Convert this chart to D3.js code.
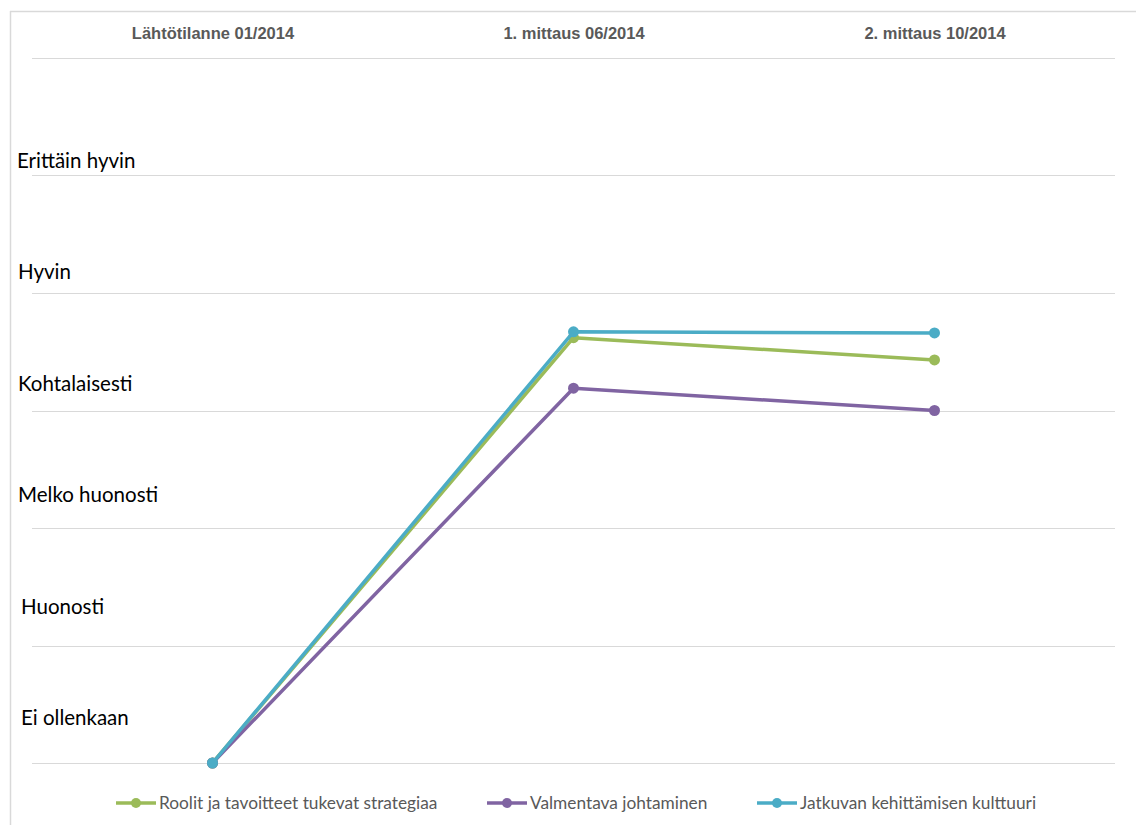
<!DOCTYPE html>
<html>
<head>
<meta charset="utf-8">
<script src="https://cdn.jsdelivr.net/npm/d3@7"></script>
<style>
  html, body { margin: 0; padding: 0; background: #fff; }
  svg { display: block; font-family: Lato, "Open Sans", "Liberation Sans", sans-serif; }
</style>
</head>
<body>
<svg id="chart" width="1136" height="825"></svg>
<script>
// Measurement points (category axis shown along the top)
const categories = ["Lähtötilanne 01/2014", "1. mittaus 06/2014", "2. mittaus 10/2014"];

// Rating scale labels, from lowest (0) upward
const scaleLabels = ["Ei ollenkaan", "Huonosti", "Melko huonosti", "Kohtalaisesti", "Hyvin", "Erittäin hyvin"];

// Series
const seriesNames = ["Roolit ja tavoitteet tukevat strategiaa", "Valmentava johtaminen", "Jatkuvan kehittämisen kulttuuri"];
const roolitValues = [0, 3.62, 3.43];
const valmentavaValues = [0, 3.19, 3.00];
const jatkuvanValues = [0, 3.67, 3.66];
const seriesColors = ["#9BBB59", "#8064A2", "#4BACC6"];

const series = [
  { name: seriesNames[0], values: roolitValues, color: seriesColors[0] },
  { name: seriesNames[1], values: valmentavaValues, color: seriesColors[1] },
  { name: seriesNames[2], values: jatkuvanValues, color: seriesColors[2] }
];

const svg = d3.select("#chart");

// Chart frame
svg.append("line").attr("x1", 10).attr("x2", 1136).attr("y1", 11.5).attr("y2", 11.5)
  .attr("stroke", "#d9d9d9").attr("stroke-width", 1.5);
svg.append("line").attr("x1", 10.5).attr("x2", 10.5).attr("y1", 11).attr("y2", 825)
  .attr("stroke", "#d9d9d9").attr("stroke-width", 1.5);

const plot = { left: 32, right: 1115, top: 58, bottom: 763 };

const x = d3.scalePoint().domain(categories).range([plot.left, plot.right]).padding(0.5);
const y = d3.scaleLinear().domain([0, 6]).range([plot.bottom, plot.top]);

// Horizontal gridlines
svg.append("g")
  .selectAll("line")
  .data(d3.range(0, 7))
  .join("line")
  .attr("x1", plot.left).attr("x2", plot.right)
  .attr("y1", d => Math.round(y(d)) + 0.5).attr("y2", d => Math.round(y(d)) + 0.5)
  .attr("stroke", "#d9d9d9").attr("stroke-width", 1);

// Category axis along the top
const topAxis = d3.axisTop(x).tickSize(0).tickPadding(0);
const gTop = svg.append("g").attr("transform", "translate(0,39)").call(topAxis);
gTop.select(".domain").remove();
gTop.selectAll("text")
  .attr("fill", "#595959")
  .attr("font-size", "16.5px")
  .attr("font-weight", "bold");

// Rating labels at the left, laid out as separate text boxes
const labelY = d3.scaleLinear().domain([0, scaleLabels.length - 1]).range([725, 168]);
svg.append("g")
  .selectAll("text")
  .data(scaleLabels)
  .join("text")
  .attr("x", (d, i) => i < 2 ? 21 : (i === 5 ? 17 : 18))
  .attr("y", (d, i) => labelY(i))
  .attr("fill", "#000")
  .attr("font-size", "20.5px")
  .text(d => d);

// Lines and markers
const line = d3.line()
  .x((d, i) => x(categories[i]))
  .y(d => y(d));

const gSeries = svg.append("g");
series.forEach(s => {
  gSeries.append("path")
    .datum(s.values)
    .attr("d", line)
    .attr("fill", "none")
    .attr("stroke", s.color)
    .attr("stroke-width", 3.5)
    .attr("stroke-linejoin", "round")
    .attr("stroke-linecap", "round");
  gSeries.selectAll(null)
    .data(s.values)
    .join("circle")
    .attr("cx", (d, i) => x(categories[i]))
    .attr("cy", d => y(d))
    .attr("r", 5.5)
    .attr("fill", s.color);
});

// Legend
const legendX = [116, 487, 757];
const legend = svg.append("g");
series.forEach((s, i) => {
  const g = legend.append("g").attr("transform", `translate(${legendX[i]},803)`);
  g.append("line").attr("x1", 0).attr("x2", 40).attr("y1", 0).attr("y2", 0)
    .attr("stroke", s.color).attr("stroke-width", 3.5);
  g.append("circle").attr("cx", 20).attr("cy", 0).attr("r", 5).attr("fill", s.color);
  g.append("text").attr("x", 43).attr("y", 6)
    .attr("fill", "#595959").attr("font-size", "17.3px")
    .text(s.name);
});
</script>
</body>
</html>
